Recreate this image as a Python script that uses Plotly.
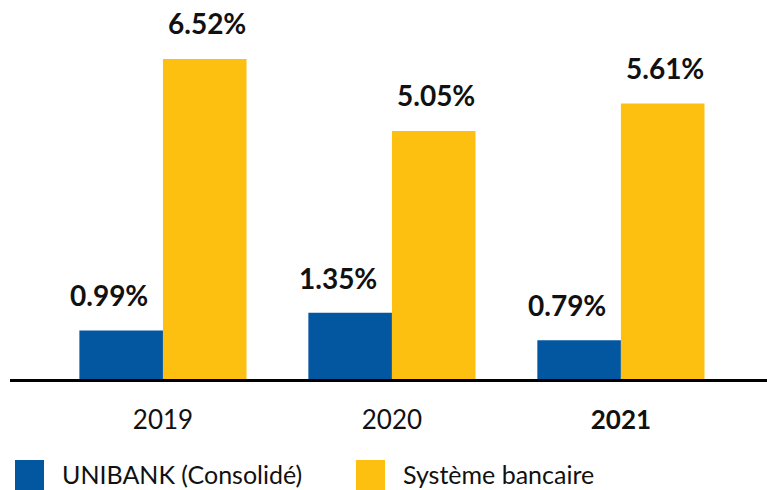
import plotly.graph_objects as go

# ── Data ──────────────────────────────────────────────────────────────────────
years = ["2019", "2020", "2021"]
year_labels = ["2019", "2020", "<b>2021</b>"]
unibank = [0.99, 1.35, 0.79]
systeme = [6.52, 5.05, 5.61]
series_names = ["UNIBANK (Consolidé)", "Système bancaire"]

BLUE = "#0356A0"
YELLOW = "#FDC010"
FONT = "Lato"

xpos = list(range(len(years)))
half = 0.1825  # centre offset of each bar in a group

fig = go.Figure()
fig.add_trace(go.Bar(x=xpos, y=unibank, name=series_names[0], marker_color=BLUE,
                     marker_line_width=0, showlegend=False))
fig.add_trace(go.Bar(x=xpos, y=systeme, name=series_names[1], marker_color=YELLOW,
                     marker_line_width=0, showlegend=False))

# value labels above each bar
for i in xpos:
    fig.add_annotation(x=i - half, y=unibank[i], text=f"<b>{unibank[i]:.2f}%</b>",
                       showarrow=False, yanchor="bottom", yshift=16, xshift=-12,
                       font=dict(family=FONT, size=28, color="#111"))
    fig.add_annotation(x=i + half, y=systeme[i], text=f"<b>{systeme[i]:.2f}%</b>",
                       showarrow=False, yanchor="bottom", yshift=17, xshift=2,
                       font=dict(family=FONT, size=28, color="#111"))

# hand-drawn legend (large square swatches)
legend_items = [(series_names[0], BLUE, 15), (series_names[1], YELLOW, 356)]
for name, colour, px0 in legend_items:
    fig.add_shape(type="rect", xref="paper", yref="paper",
                  x0=(px0 - 10) / 757, x1=(px0 + 19) / 757,
                  y0=-111 / 379, y1=-81 / 379,
                  fillcolor=colour, line_width=0)
    fig.add_annotation(xref="paper", yref="paper", x=(px0 + 35) / 757, y=-95 / 379,
                       text=name, showarrow=False, xanchor="left", yanchor="middle",
                       font=dict(family=FONT, size=25, color="#111"))

fig.update_layout(
    width=767, height=490,
    margin=dict(l=10, r=0, t=0, b=111),
    barmode="group",
    bargap=0.27,
    bargroupgap=0,
    plot_bgcolor="white",
    paper_bgcolor="white",
    xaxis=dict(
        range=[-0.668, 2.638],
        tickvals=xpos, ticktext=year_labels,
        showgrid=False, zeroline=False,
        showline=True, linecolor="black", linewidth=3,
        ticks="", ticklabelstandoff=16,
        tickfont=dict(family=FONT, size=26, color="#111"),
    ),
    yaxis=dict(range=[0, 7.72], visible=False),
)

fig.write_html("out.html", config={"displayModeBar": False},
               post_script="document.body.style.margin='0px';")
